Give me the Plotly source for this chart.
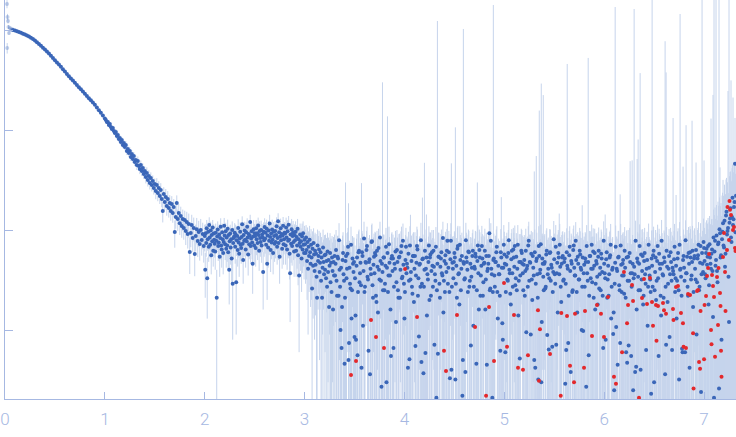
import plotly.graph_objects as go

# ---------------- data (s in nm^-1, intensity in arbitrary units) ----------------
q_low = [0.020, 0.022, 0.025, 0.030, 0.035, 0.040, 0.050, 0.060, 0.070]
i_low = [1820, 661, 1349, 1230, 1072, 933, 1047, 1000, 1023]
err_low = [170, 80, 100, 70, 50, 40, 25, 20, 15]

q_guinier = [0.08, 0.10, 0.12, 0.14, 0.16, 0.18, 0.20, 0.22, 0.24, 0.26,
             0.28, 0.30, 0.32, 0.34, 0.36, 0.38, 0.40, 0.42, 0.44, 0.46,
             0.48, 0.50, 0.52, 0.54, 0.56, 0.58, 0.60, 0.62, 0.64, 0.66,
             0.68, 0.70, 0.72, 0.74, 0.76, 0.78, 0.80, 0.82, 0.84, 0.86,
             0.88, 0.90, 0.92, 0.94, 0.96, 0.98, 1.00]
i_guinier = [1000, 986, 971, 955, 938, 918, 899, 879, 859, 836,
             813, 785, 755, 724, 695, 665, 637, 608, 581, 552,
             525, 499, 474, 451, 428, 406, 385, 364, 345, 328,
             312, 296, 282, 268, 255, 242, 230, 219, 208, 198,
             188, 179, 168, 158, 149, 140, 130]
err_guinier = [6, 6, 6, 5, 5, 5, 5, 5, 5, 4,
               4, 4, 4, 4, 4, 3.5, 3.5, 3.5, 3.2, 3.2,
               3.0, 3.0, 2.8, 2.8, 2.6, 2.6, 2.4, 2.4, 2.3, 2.2,
               2.1, 2.0, 2.0, 1.9, 1.9, 1.8, 1.8, 1.7, 1.7, 1.6,
               1.6, 1.6, 1.5, 1.5, 1.5, 1.5, 1.5]

q_knee = [1.01, 1.02, 1.03, 1.04, 1.05, 1.06, 1.07, 1.08, 1.09, 1.10,
          1.11, 1.12, 1.13, 1.14, 1.15, 1.16, 1.17, 1.18, 1.19, 1.20,
          1.21, 1.22, 1.23, 1.24, 1.25, 1.26, 1.27, 1.28, 1.29, 1.30,
          1.31, 1.32, 1.33, 1.34, 1.35, 1.36, 1.37, 1.38, 1.39, 1.40,
          1.41, 1.42, 1.43, 1.44, 1.45, 1.46, 1.47, 1.48, 1.49, 1.50,
          1.51, 1.52, 1.53, 1.54, 1.55, 1.56, 1.57, 1.58, 1.59, 1.60,
          1.61, 1.62, 1.63, 1.64, 1.65, 1.66, 1.67, 1.68, 1.69, 1.70,
          1.71, 1.72, 1.73, 1.74, 1.75, 1.76, 1.77, 1.78, 1.79, 1.80,
          1.81, 1.82, 1.83, 1.84, 1.85, 1.86, 1.87, 1.88, 1.89, 1.90,
          1.91, 1.92, 1.93, 1.94, 1.95, 1.96, 1.97, 1.98, 1.99, 2.00]
i_knee = [125.9, 120.2, 120.2, 112.2, 114.8, 107.2, 102.3, 104.7, 97.7, 93.3,
          95.5, 87.1, 89.1, 81.3, 83.2, 75.9, 79.4, 70.8, 74.1, 67.6,
          70.8, 61.7, 64.6, 58.9, 61.7, 53.7, 57.5, 51.3, 55.0, 47.9,
          50.1, 44.7, 49.0, 43.7, 40.7, 44.7, 38.9, 41.7, 36.3, 38.9,
          33.9, 37.2, 31.6, 34.7, 29.5, 33.1, 28.2, 30.9, 26.3, 28.8,
          24.5, 28.2, 23.4, 26.3, 21.9, 25.1, 20.4, 15.5, 22.9, 19.05,
          21.4, 17.4, 20.4, 16.6, 18.6, 15.5, 18.2, 14.8, 17.0, 9.55,
          13.5, 18.6, 12.9, 14.8, 11.7, 13.8, 10.96, 12.9, 10.5, 12.6,
          9.77, 12.0, 9.12, 11.5, 6.03, 9.33, 11.2, 8.32, 10.5, 5.75,
          8.71, 10.2, 7.76, 9.55, 7.24, 10.0, 7.94, 9.12, 6.92, 8.71]
err_knee = [6.3, 6.0, 6.0, 5.6, 5.7, 5.4, 5.1, 5.2, 4.9, 4.7,
            6.7, 6.1, 6.2, 5.7, 5.8, 5.3, 5.6, 5.0, 5.2, 4.7,
            6.4, 5.6, 5.8, 5.3, 5.6, 4.8, 5.2, 4.6, 5.0, 4.3,
            5.5, 4.9, 5.4, 4.8, 4.5, 4.9, 4.3, 4.6, 4.0, 4.3,
            4.7, 5.2, 4.4, 4.9, 4.1, 4.6, 3.9, 4.3, 3.7, 4.0,
            4.2, 4.8, 4.0, 4.5, 3.7, 4.3, 3.5, 3.6, 3.9, 3.2,
            4.3, 3.5, 4.1, 3.3, 3.7, 3.1, 3.6, 3.0, 3.4, 2.9,
            3.2, 3.6, 3.1, 3.4, 2.8, 3.3, 2.6, 3.1, 2.5, 3.0,
            2.7, 3.2, 2.6, 3.1, 2.4, 2.6, 3.0, 2.3, 2.8, 2.3,
            2.6, 3.0, 2.4, 2.8, 2.3, 2.9, 2.4, 2.7, 2.2, 2.6]

q_plateau = [2.005, 2.010, 2.015, 2.020, 2.025, 2.030, 2.035, 2.040, 2.045, 2.050, 2.055, 2.060, 2.065, 2.070, 2.075, 2.080, 2.085, 2.090, 2.095, 2.100,
             2.105, 2.110, 2.115, 2.120, 2.125, 2.130, 2.135, 2.140, 2.145, 2.150, 2.155, 2.160, 2.165, 2.170, 2.175, 2.180, 2.185, 2.190, 2.195, 2.200,
             2.205, 2.210, 2.215, 2.220, 2.225, 2.230, 2.235, 2.240, 2.245, 2.250, 2.255, 2.260, 2.265, 2.270, 2.275, 2.280, 2.285, 2.290, 2.295, 2.300,
             2.305, 2.310, 2.315, 2.320, 2.325, 2.330, 2.335, 2.340, 2.345, 2.350, 2.355, 2.360, 2.365, 2.370, 2.375, 2.380, 2.385, 2.390, 2.395, 2.400,
             2.405, 2.410, 2.415, 2.420, 2.425, 2.430, 2.435, 2.440, 2.445, 2.450, 2.455, 2.460, 2.465, 2.470, 2.475, 2.480, 2.485, 2.490, 2.495, 2.500,
             2.505, 2.510, 2.515, 2.520, 2.525, 2.530, 2.535, 2.540, 2.545, 2.550, 2.555, 2.560, 2.565, 2.570, 2.575, 2.580, 2.585, 2.590, 2.595, 2.600,
             2.605, 2.610, 2.615, 2.620, 2.625, 2.630, 2.635, 2.640, 2.645, 2.650, 2.655, 2.660, 2.665, 2.670, 2.675, 2.680, 2.685, 2.690, 2.695, 2.700,
             2.705, 2.710, 2.715, 2.720, 2.725, 2.730, 2.735, 2.740, 2.745, 2.750, 2.755, 2.760, 2.765, 2.770, 2.775, 2.780, 2.785, 2.790, 2.795, 2.800,
             2.805, 2.810, 2.815, 2.820, 2.825, 2.830, 2.835, 2.840, 2.845, 2.850, 2.855, 2.860, 2.865, 2.870, 2.875, 2.880, 2.885, 2.890, 2.895, 2.900,
             2.905, 2.910, 2.915, 2.920, 2.925, 2.930, 2.935, 2.940, 2.945, 2.950, 2.955, 2.960, 2.965, 2.970, 2.975, 2.980, 2.985, 2.990, 2.995, 3.000,
             3.005, 3.010, 3.015, 3.020, 3.025, 3.030, 3.035, 3.040, 3.045, 3.050, 3.055, 3.060, 3.065, 3.070, 3.075, 3.080, 3.085, 3.090, 3.095, 3.100,
             3.105, 3.110, 3.115, 3.120, 3.125, 3.130, 3.135, 3.140, 3.145, 3.150, 3.155, 3.160, 3.165, 3.170, 3.175, 3.180, 3.185, 3.190, 3.195, 3.200,
             3.205, 3.210, 3.215, 3.220, 3.225, 3.230, 3.235, 3.240, 3.245, 3.250, 3.255, 3.260, 3.265, 3.270, 3.275, 3.280, 3.285, 3.290, 3.295, 3.300]
i_plateau = [4.0, 9.3, 7.4, 10.4, 3.3, 8.1, 9.6, 6.8, 11.2, 8.4, 7.1, 9.9, 5.6, 8.9, 7.7, 10.6, 6.2, 9.2, 8.0, 7.3,
             6.1, 9.4, 7.8, 2.1, 8.6, 10.1, 6.9, 7.5, 9.0, 5.4, 8.3, 10.8, 7.0, 6.4, 9.5, 8.1, 5.9, 7.6, 11.0, 8.8,
             7.2, 9.7, 6.5, 8.4, 7.0, 10.3, 6.0, 8.9, 4.0, 7.7, 9.2, 6.7, 8.1, 5.2, 10.0, 2.9, 7.4, 8.3, 8.6, 9.4,
             6.8, 9.0, 3.0, 7.9, 8.7, 6.3, 10.5, 7.5, 5.8, 8.2, 9.6, 7.1, 6.6, 8.5, 11.4, 7.3, 5.0, 8.9, 7.8, 9.9,
             8.0, 6.4, 9.5, 7.7, 10.8, 8.4, 5.7, 9.1, 7.2, 8.8, 12.0, 6.9, 8.2, 9.7, 7.5, 4.6, 8.6, 10.2, 7.0, 9.3,
             8.7, 6.6, 10.4, 8.1, 9.3, 7.4, 11.1, 8.9, 6.2, 9.8, 8.3, 7.6, 10.0, 7.0, 9.0, 8.4, 3.8, 9.6, 7.9, 10.7,
             8.2, 9.4, 7.1, 10.3, 4.6, 8.8, 6.7, 9.9, 7.8, 11.6, 8.5, 6.3, 9.2, 7.5, 10.1, 8.0, 5.9, 9.6, 8.7, 7.3,
             9.8, 7.6, 8.9, 10.9, 6.8, 8.3, 12.2, 7.4, 9.5, 5.4, 8.6, 10.4, 7.9, 9.1, 6.5, 8.8, 11.0, 7.2, 8.1, 9.4,
             9.2, 7.0, 10.6, 8.4, 6.4, 9.7, 7.8, 11.3, 8.0, 5.8, 3.7, 9.0, 7.3, 10.2, 6.9, 8.7, 9.5, 7.6, 6.1, 8.9,
             7.9, 9.6, 6.2, 8.5, 7.0, 10.3, 5.6, 8.1, 3.5, 7.4, 9.0, 6.8, 7.7, 5.2, 8.6, 6.4, 9.3, 7.1, 5.9, 8.0,
             7.2, 5.9, 8.4, 6.3, 4.9, 7.6, 4.1, 6.8, 5.5, 8.0, 6.0, 4.6, 7.1, 5.3, 2.6, 6.5, 4.4, 7.4, 5.7, 3.9,
             6.2, 4.5, 5.8, 3.4, 2.1, 7.0, 4.9, 5.5, 6.4, 3.8, 4.7, 6.0, 3.1, 5.3, 2.1, 4.2, 6.7, 4.8, 3.6, 5.6,
             4.0, 5.7, 3.3, 4.9, 2.7, 6.1, 3.8, 5.0, 1.7, 4.4, 5.9, 3.0, 4.7, 2.4, 5.3, 3.9, 1.6, 4.8, 3.5, 5.5]
err_plateau = [1.9, 2.1, 2.0, 2.2, 2.0, 1.9, 2.3, 2.0, 2.2, 2.1, 1.9, 2.2, 2.0, 2.1, 2.3, 2.0, 1.9, 2.2, 2.1, 2.0,
               2.1, 2.2, 2.0, 1.9, 2.3, 2.1, 2.0, 2.2, 2.4, 2.0, 2.1, 2.3, 2.0, 2.2, 2.1, 1.9, 2.3, 2.1, 2.2, 2.0,
               2.2, 2.1, 2.3, 2.0, 2.2, 2.4, 2.1, 2.0, 2.2, 2.3, 2.1, 2.2, 2.0, 2.4, 2.2, 2.1, 2.3, 2.2, 2.0, 2.3,
               2.2, 2.3, 2.1, 2.4, 2.2, 2.0, 2.3, 2.2, 2.4, 2.1, 2.3, 2.2, 2.0, 2.4, 2.3, 2.2, 2.1, 2.3, 2.4, 2.2,
               2.3, 2.2, 2.4, 2.1, 2.3, 2.5, 2.2, 2.3, 2.1, 2.4, 2.2, 2.3, 2.5, 2.2, 2.4, 2.3, 2.1, 2.4, 2.3, 2.2,
               2.4, 2.3, 2.2, 2.5, 2.3, 2.4, 2.2, 2.6, 2.3, 2.4, 2.5, 2.2, 2.4, 2.3, 2.5, 2.4, 2.2, 2.3, 2.5, 2.4,
               2.4, 2.5, 2.3, 2.4, 2.6, 2.3, 2.5, 2.4, 2.2, 2.6, 2.4, 2.5, 2.3, 2.4, 2.6, 2.5, 2.3, 2.4, 2.6, 2.5,
               2.5, 2.4, 2.6, 2.5, 2.3, 2.7, 2.5, 2.4, 2.6, 2.5, 2.4, 2.6, 2.7, 2.5, 2.4, 2.6, 2.5, 2.7, 2.4, 2.6,
               2.6, 2.5, 2.7, 2.6, 2.4, 2.8, 2.6, 2.5, 2.7, 2.6, 2.5, 2.8, 2.6, 2.7, 2.5, 2.6, 2.8, 2.6, 2.7, 2.5,
               2.7, 2.6, 2.8, 2.7, 2.9, 2.6, 2.8, 2.7, 2.9, 2.8, 2.6, 2.9, 2.7, 2.8, 3.0, 2.7, 2.9, 2.8, 2.7, 3.0,
               2.9, 3.0, 2.8, 3.1, 2.9, 3.0, 3.2, 2.9, 3.1, 3.0, 3.2, 2.9, 3.1, 3.3, 3.0, 3.2, 3.1, 3.0, 3.3, 3.1,
               3.2, 3.1, 3.3, 3.2, 3.4, 3.1, 3.3, 3.2, 3.4, 3.3, 3.1, 3.4, 3.3, 3.2, 3.5, 3.3, 3.4, 3.2, 3.5, 3.3,
               3.4, 3.3, 3.5, 3.4, 3.6, 3.3, 3.5, 3.4, 3.6, 3.5, 3.4, 3.6, 3.5, 3.7, 3.4, 3.6, 3.5, 3.7, 3.6, 3.5]

q_noisy = [3.31, 3.32, 3.33, 3.34, 3.35, 3.36, 3.37, 3.38, 3.39, 3.40,
           3.41, 3.42, 3.43, 3.44, 3.45, 3.46, 3.47, 3.48, 3.49, 3.50,
           3.51, 3.52, 3.53, 3.54, 3.55, 3.56, 3.57, 3.58, 3.59, 3.60,
           3.61, 3.62, 3.63, 3.64, 3.65, 3.66, 3.67, 3.68, 3.69, 3.70,
           3.71, 3.72, 3.73, 3.74, 3.75, 3.76, 3.77, 3.78, 3.79, 3.80,
           3.81, 3.82, 3.83, 3.84, 3.85, 3.86, 3.87, 3.88, 3.89, 3.90,
           3.91, 3.92, 3.93, 3.94, 3.95, 3.96, 3.97, 3.98, 3.99, 4.00,
           4.01, 4.02, 4.03, 4.04, 4.05, 4.06, 4.07, 4.08, 4.09, 4.10,
           4.11, 4.12, 4.13, 4.14, 4.15, 4.16, 4.17, 4.18, 4.19, 4.20,
           4.21, 4.22, 4.23, 4.24, 4.25, 4.26, 4.27, 4.28, 4.29, 4.30,
           4.31, 4.32, 4.33, 4.34, 4.35, 4.36, 4.37, 4.38, 4.39, 4.40,
           4.41, 4.42, 4.43, 4.44, 4.45, 4.46, 4.47, 4.48, 4.49, 4.50,
           4.51, 4.52, 4.53, 4.54, 4.55, 4.56, 4.57, 4.58, 4.59, 4.60,
           4.61, 4.62, 4.63, 4.64, 4.65, 4.66, 4.67, 4.68, 4.69, 4.70,
           4.71, 4.72, 4.73, 4.74, 4.75, 4.76, 4.77, 4.78, 4.79, 4.80,
           4.81, 4.82, 4.83, 4.84, 4.85, 4.86, 4.87, 4.88, 4.89, 4.90,
           4.91, 4.92, 4.93, 4.94, 4.95, 4.96, 4.97, 4.98, 4.99, 5.00,
           5.01, 5.02, 5.03, 5.04, 5.05, 5.06, 5.07, 5.08, 5.09, 5.10,
           5.11, 5.12, 5.13, 5.14, 5.15, 5.16, 5.17, 5.18, 5.19, 5.20,
           5.21, 5.22, 5.23, 5.24, 5.25, 5.26, 5.27, 5.28, 5.29, 5.30,
           5.31, 5.32, 5.33, 5.34, 5.35, 5.36, 5.37, 5.38, 5.39, 5.40,
           5.41, 5.42, 5.43, 5.44, 5.45, 5.46, 5.47, 5.48, 5.49, 5.50,
           5.51, 5.52, 5.53, 5.54, 5.55, 5.56, 5.57, 5.58, 5.59, 5.60,
           5.61, 5.62, 5.63, 5.64, 5.65, 5.66, 5.67, 5.68, 5.69, 5.70,
           5.71, 5.72, 5.73, 5.74, 5.75, 5.76, 5.77, 5.78, 5.79, 5.80,
           5.81, 5.82, 5.83, 5.84, 5.85, 5.86, 5.87, 5.88, 5.89, 5.90,
           5.91, 5.92, 5.93, 5.94, 5.95, 5.96, 5.97, 5.98, 5.99, 6.00,
           6.01, 6.02, 6.03, 6.04, 6.05, 6.06, 6.07, 6.08, 6.09, 6.10,
           6.11, 6.12, 6.13, 6.14, 6.15, 6.16, 6.17, 6.18, 6.19, 6.20,
           6.21, 6.22, 6.23, 6.24, 6.25, 6.26, 6.27, 6.28, 6.29, 6.30,
           6.31, 6.32, 6.33, 6.34, 6.35, 6.36, 6.37, 6.38, 6.39, 6.40,
           6.41, 6.42, 6.43, 6.44, 6.45, 6.46, 6.47, 6.48, 6.49, 6.50,
           6.51, 6.52, 6.53, 6.54, 6.55, 6.56, 6.57, 6.58, 6.59, 6.60,
           6.61, 6.62, 6.63, 6.64, 6.65, 6.66, 6.67, 6.68, 6.69, 6.70,
           6.71, 6.72, 6.73, 6.74, 6.75, 6.76, 6.77, 6.78, 6.79, 6.80,
           6.81, 6.82, 6.83, 6.84, 6.85, 6.86, 6.87, 6.88, 6.89, 6.90,
           6.91, 6.92, 6.93, 6.94, 6.95, 6.96, 6.97, 6.98, 6.99, 7.00,
           7.01, 7.02, 7.03, 7.04, 7.05, 7.06, 7.07, 7.08, 7.09, 7.10,
           7.11, 7.12, 7.13, 7.14, 7.15, 7.16, 7.17, 7.18, 7.19, 7.20,
           7.21, 7.22, 7.23, 7.24, 7.25, 7.26, 7.27, 7.28, 7.29, 7.30,
           7.31, 7.32]
i_noisy = [4.6, 3.1, 5.4, 2.2, 4.0, 1.0, 0.66, 5.0, 3.6, 0.46,
           4.9, 3.3, 5.8, 0.5, 4.2, 2.6, 1.3, 5.2, 3.8, 0.85,
           1.4, 4.4, 0.56, 6.0, 3.0, 4.7, 0.42, 5.5, 3.9, 2.4,
           4.8, 6.3, 3.4, 0.62, 5.1, 4.1, 7.6, 2.8, 4.5, 3.7,
           5.6, 1.9, 4.3, 6.6, 3.2, 4.9, 0.27, 3.8, 5.3, 2.5,
           4.4, 0.30, 5.9, 3.5, 4.7, 1.6, 5.2, 3.9, 0.66, 4.6,
           6.1, 3.0, 4.8, 2.1, 5.4, 4.0, 6.9, 3.4, 4.5, 1.3,
           5.0, 3.7, 4.2, 5.8, 0.51, 3.2, 4.9, 2.3, 5.5, 4.1,
           0.69, 4.7, 6.4, 3.3, 4.5, 2.7, 0.48, 5.1, 0.37, 4.0,
           0.59, 5.3, 3.6, 4.8, 2.0, 5.7, 3.9, 4.4, 6.2, 0.71,
           3.1, 0.21, 4.6, 5.4, 2.9, 4.3, 6.0, 3.5, 1.5, 4.9,
           5.6, 3.8, 7.8, 4.2, 2.4, 5.1, 0.40, 4.7, 3.3, 5.9,
           0.32, 4.4, 6.5, 3.6, 1.8, 5.0, 4.1, 0.22, 4.8, 3.2,
           0.38, 5.3, 4.0, 6.1, 2.7, 4.6, 3.4, 5.5, 1.1, 4.3,
           5.8, 0.46, 4.9, 3.7, 6.3, 2.2, 4.4, 5.2, 3.0, 4.7,
           1.6, 5.5, 3.9, 4.6, 9.3, 2.6, 4.1, 0.21, 5.0, 3.5,
           4.8, 6.0, 2.4, 4.4, 3.6, 0.62, 5.3, 1.17, 4.2, 5.7,
           0.60, 4.5, 3.2, 5.9, 4.0, 2.3, 5.1, 3.7, 6.4, 4.3,
           2.8, 5.4, 4.1, 1.4, 4.8, 3.5, 6.2, 4.6, 2.5, 5.0,
           3.9, 0.95, 4.4, 7.0, 3.1, 4.7, 5.8, 2.0, 4.2, 0.50,
           0.42, 4.9, 3.6, 0.32, 5.5, 4.0, 0.30, 5.2, 3.4, 4.6,
           2.6, 5.7, 0.89, 4.1, 3.3, 6.0, 4.5, 0.68, 3.8, 5.1,
           2.9, 0.71, 4.7, 5.9, 3.6, 4.3, 1.9, 5.3, 3.1, 4.8,
           0.29, 0.63, 4.4, 0.74, 5.6, 3.9, 4.9, 2.4, 6.3, 4.2,
           3.5, 5.0, 1.5, 4.6, 3.2, 5.7, 4.0, 2.7, 0.98, 4.5,
           5.2, 0.27, 3.7, 4.8, 2.2, 5.5, 4.1, 3.0, 6.1, 4.4,
           1.6, 4.9, 3.4, 5.4, 2.6, 4.2, 5.8, 3.8, 0.66, 4.6,
           3.3, 5.1, 2.1, 4.4, 3.6, 5.6, 1.3, 4.0, 0.91, 0.25,
           4.7, 1.07, 3.9, 5.3, 2.8, 0.74, 4.5, 3.5, 5.0, 2.3,
           4.2, 0.60, 0.47, 5.4, 3.1, 4.8, 0.55, 3.7, 0.25, 4.3,
           0.38, 0.43, 5.2, 3.4, 4.6, 2.5, 5.7, 3.9, 1.8, 4.9,
           3.6, 0.63, 5.0, 2.7, 4.2, 3.2, 0.23, 4.4, 5.6, 0.30,
           3.8, 2.0, 4.9, 3.3, 5.8, 4.1, 1.4, 4.6, 3.5, 5.3,
           0.36, 0.71, 4.3, 2.9, 5.5, 3.6, 4.8, 0.63, 3.9, 5.1,
           2.4, 4.4, 3.1, 5.9, 0.32, 4.0, 3.4, 0.65, 5.0, 4.2,
           0.60, 3.7, 5.4, 2.2, 4.6, 6.0, 3.2, 4.8, 1.7, 5.2,
           4.1, 6.3, 3.0, 5.6, 2.5, 4.7, 0.24, 5.9, 3.8, 6.6,
           3.6, 5.9, 4.5, 6.9, 2.8, 5.3, 4.1, 6.4, 1.35, 0.21,
           7.8, 5.0, 3.9, 7.2, 0.26, 9.3, 5.6, 8.1, 11.7, 6.7,
           4.3, 14.0, 9.0, 10.5, 1.2, 13.0, 8.4, 13.5, 11.2, 17.0,
           46, 22]
err_noisy = [3.4, 3.6, 3.3, 3.7, 3.5, 3.6, 3.4, 3.8, 3.5, 3.6,
             25, 3.5, 3.7, 18, 3.6, 3.4, 3.8, 3.5, 3.7, 3.6,
             3.6, 3.8, 3.5, 3.7, 3.9, 3.6, 29, 3.7, 3.5, 3.8,
             3.7, 3.5, 3.9, 3.6, 3.8, 4.0, 3.6, 3.7, 3.9, 3.5,
             3.8, 3.6, 3.9, 3.7, 4.0, 3.6, 3.8, 296, 3.7, 3.9,
             3.6, 3.9, 131, 3.7, 3.8, 3.6, 4.0, 3.7, 3.9, 3.8,
             3.7, 3.9, 3.6, 4.0, 3.8, 3.7, 3.9, 4.1, 3.6, 3.8,
             3.9, 3.7, 4.0, 3.8, 3.6, 11, 3.9, 3.7, 4.0, 3.8,
             3.8, 4.0, 3.7, 3.9, 4.1, 3.8, 3.7, 16, 3.9, 43,
             3.7, 9.0, 3.9, 3.8, 4.0, 3.7, 4.1, 3.9, 3.8, 4.0,
             3.9, 3.8, 1226, 4.0, 3.7, 3.9, 4.1, 3.8, 4.0, 3.7,
             4.0, 3.8, 3.9, 4.1, 3.7, 4.0, 46, 3.9, 4.1, 3.8,
             106, 3.9, 4.1, 3.8, 4.0, 3.9, 4.2, 3.8, 1019, 4.0,
             3.9, 4.1, 3.8, 4.0, 4.2, 3.9, 4.0, 3.8, 4.1, 3.9,
             4.0, 3.9, 25, 4.1, 3.8, 4.0, 4.2, 3.9, 4.1, 3.8,
             4.1, 3.9, 4.0, 4.2, 3.8, 4.1, 3.9, 4.0, 1774, 4.2,
             3.9, 4.1, 4.0, 3.8, 4.2, 3.9, 16, 4.1, 4.0, 3.9,
             4.0, 4.2, 3.9, 4.1, 3.8, 4.0, 4.2, 3.9, 4.1, 4.0,
             4.2, 3.9, 4.1, 4.0, 4.3, 3.9, 4.1, 4.2, 4.0, 3.9,
             4.1, 4.0, 4.2, 3.9, 4.1, 4.3, 4.0, 4.2, 3.9, 38,
             4.1, 50, 4.0, 4.2, 151, 4.1, 291, 4.0, 220, 4.2,
             4.0, 4.2, 4.1, 4.3, 3.9, 4.1, 4.2, 4.0, 4.3, 4.1,
             4.2, 4.0, 4.3, 4.1, 11, 4.2, 4.0, 4.3, 4.1, 4.2,
             4.1, 4.3, 453, 4.0, 4.2, 4.1, 4.3, 4.2, 4.0, 4.4,
             4.2, 4.1, 4.3, 4.2, 4.4, 4.0, 4.3, 15, 4.2, 4.1,
             4.3, 4.2, 4.1, 521, 4.3, 4.2, 4.4, 4.1, 4.3, 4.2,
             4.2, 4.4, 4.3, 4.1, 4.5, 4.2, 4.3, 4.4, 4.2, 4.3,
             11, 4.3, 4.5, 4.2, 4.4, 4.3, 4.5, 4.2, 4.4, 4.3,
             1694, 4.4, 4.3, 4.5, 4.2, 22, 4.4, 4.3, 4.5, 4.4,
             4.5, 4.3, 4.4, 4.6, 4.3, 44, 4.5, 46, 4.4, 1618,
             4.4, 4.5, 46, 77, 4.6, 368, 4.4, 4.5, 4.3, 4.6,
             4.5, 4.4, 4.6, 4.5, 4.3, 4.6, 4.5, 3000, 4.4, 4.6,
             4.6, 4.4, 4.5, 4.7, 4.5, 4.6, 4.4, 4.7, 4.5, 4.6,
             772, 376, 4.6, 4.5, 4.7, 4.6, 4.8, 4.5, 128, 4.7,
             4.6, 18, 4.7, 4.5, 4.8, 1441, 4.6, 4.7, 38, 4.8,
             4.7, 108, 4.6, 4.8, 4.7, 4.9, 4.6, 119, 4.8, 4.7,
             4.8, 41, 4.7, 4.9, 4.8, 4.6, 5.0, 3000, 4.8, 43,
             5.5, 6.0, 5.8, 6.3, 5.6, 6.1, 126, 6.5, 223, 3000,
             9.0, 3000, 10, 12, 3000, 33, 13, 14, 20, 15,
             14, 18, 20, 235, 3000, 25, 305, 28, 200, 30,
             86, 25]

q_noisy_b = [3.305, 3.315, 3.325, 3.335, 3.345, 3.355, 3.365, 3.375, 3.385, 3.395,
             3.405, 3.415, 3.425, 3.435, 3.445, 3.455, 3.465, 3.475, 3.485, 3.495,
             3.505, 3.515, 3.525, 3.535, 3.545, 3.555, 3.565, 3.575, 3.585, 3.595,
             3.605, 3.615, 3.625, 3.635, 3.645, 3.655, 3.665, 3.675, 3.685, 3.695,
             3.705, 3.715, 3.725, 3.735, 3.745, 3.755, 3.765, 3.775, 3.785, 3.795,
             3.805, 3.815, 3.825, 3.835, 3.845, 3.855, 3.865, 3.875, 3.885, 3.895,
             3.905, 3.915, 3.925, 3.935, 3.945, 3.955, 3.965, 3.975, 3.985, 3.995,
             4.005, 4.015, 4.025, 4.035, 4.045, 4.055, 4.065, 4.075, 4.085, 4.095,
             4.105, 4.115, 4.125, 4.135, 4.145, 4.155, 4.165, 4.175, 4.185, 4.195,
             4.205, 4.215, 4.225, 4.235, 4.245, 4.255, 4.265, 4.275, 4.285, 4.295,
             4.305, 4.315, 4.325, 4.335, 4.345, 4.355, 4.365, 4.375, 4.385, 4.395,
             4.405, 4.415, 4.425, 4.435, 4.445, 4.455, 4.465, 4.475, 4.485, 4.495,
             4.505, 4.515, 4.525, 4.535, 4.545, 4.555, 4.565, 4.575, 4.585, 4.595,
             4.605, 4.615, 4.625, 4.635, 4.645, 4.655, 4.665, 4.675, 4.685, 4.695,
             4.705, 4.715, 4.725, 4.735, 4.745, 4.755, 4.765, 4.775, 4.785, 4.795,
             4.805, 4.815, 4.825, 4.835, 4.845, 4.855, 4.865, 4.875, 4.885, 4.895,
             4.905, 4.915, 4.925, 4.935, 4.945, 4.955, 4.965, 4.975, 4.985, 4.995,
             5.005, 5.015, 5.025, 5.035, 5.045, 5.055, 5.065, 5.075, 5.085, 5.095,
             5.105, 5.115, 5.125, 5.135, 5.145, 5.155, 5.165, 5.175, 5.185, 5.195,
             5.205, 5.215, 5.225, 5.235, 5.245, 5.255, 5.265, 5.275, 5.285, 5.295,
             5.305, 5.315, 5.325, 5.335, 5.345, 5.355, 5.365, 5.375, 5.385, 5.395,
             5.405, 5.415, 5.425, 5.435, 5.445, 5.455, 5.465, 5.475, 5.485, 5.495,
             5.505, 5.515, 5.525, 5.535, 5.545, 5.555, 5.565, 5.575, 5.585, 5.595,
             5.605, 5.615, 5.625, 5.635, 5.645, 5.655, 5.665, 5.675, 5.685, 5.695,
             5.705, 5.715, 5.725, 5.735, 5.745, 5.755, 5.765, 5.775, 5.785, 5.795,
             5.805, 5.815, 5.825, 5.835, 5.845, 5.855, 5.865, 5.875, 5.885, 5.895,
             5.905, 5.915, 5.925, 5.935, 5.945, 5.955, 5.965, 5.975, 5.985, 5.995,
             6.005, 6.015, 6.025, 6.035, 6.045, 6.055, 6.065, 6.075, 6.085, 6.095,
             6.105, 6.115, 6.125, 6.135, 6.145, 6.155, 6.165, 6.175, 6.185, 6.195,
             6.205, 6.215, 6.225, 6.235, 6.245, 6.255, 6.265, 6.275, 6.285, 6.295,
             6.305, 6.315, 6.325, 6.335, 6.345, 6.355, 6.365, 6.375, 6.385, 6.395,
             6.405, 6.415, 6.425, 6.435, 6.445, 6.455, 6.465, 6.475, 6.485, 6.495,
             6.505, 6.515, 6.525, 6.535, 6.545, 6.555, 6.565, 6.575, 6.585, 6.595,
             6.605, 6.615, 6.625, 6.635, 6.645, 6.655, 6.665, 6.675, 6.685, 6.695,
             6.705, 6.715, 6.725, 6.735, 6.745, 6.755, 6.765, 6.775, 6.785, 6.795,
             6.805, 6.815, 6.825, 6.835, 6.845, 6.855, 6.865, 6.875, 6.885, 6.895,
             6.905, 6.915, 6.925, 6.935, 6.945, 6.955, 6.965, 6.975, 6.985, 6.995,
             7.005, 7.015, 7.025, 7.035, 7.045, 7.055, 7.065, 7.075, 7.085, 7.095,
             7.105, 7.115, 7.125, 7.135, 7.145, 7.155, 7.165, 7.175, 7.185, 7.195,
             7.205, 7.215, 7.225, 7.235, 7.245, 7.255, 7.265, 7.275, 7.285, 7.295,
             7.305, 7.315]
i_noisy_b = [3.5, 6.3, 2.2, 5.2, 7.9, 2.7, 4.2, 1.7, 5.9, 3.1,
             2.1, 5.5, 4.1, 6.8, 0.74, 2.9, 7.1, 2.5, 4.6, 4.8,
             3.3, 0.8, 5.3, 2.4, 6.2, 3.7, 2.8, 6.0, 1.1, 8.2,
             2.7, 4.7, 6.9, 3.2, 4.8, 0.36, 3.6, 7.7, 2.1, 5.4,
             5.9, 2.2, 6.2, 1.5, 4.0, 8.4, 3.1, 4.6, 2.5, 5.3,
             2.9, 6.8, 4.2, 2.4, 7.2, 3.5, 0.55, 5.5, 5.2, 2.7,
             4.1, 1.2, 6.3, 2.5, 5.3, 2.1, 6.0, 3.3, 7.8, 2.9,
             2.4, 6.8, 4.6, 0.42, 3.1, 7.0, 3.8, 2.7, 5.5, 1.9,
             5.5, 3.5, 6.9, 2.2, 0.86, 4.6, 7.9, 2.9, 5.2, 2.7,
             6.2, 4.1, 1.4, 3.2, 7.0, 5.3, 2.2, 6.0, 2.7, 4.3,
             3.6, 6.8, 2.5, 0.58, 5.4, 2.1, 5.2, 3.7, 8.3, 3.1,
             2.4, 4.6, 6.2, 2.9, 6.0, 0.33, 7.8, 2.7, 4.1, 4.8,
             5.3, 2.9, 2.1, 6.9, 3.7, 7.1, 2.5, 5.5, 0.5, 4.6,
             3.3, 7.9, 4.8, 2.4, 6.0, 3.1, 0.7, 4.2, 6.2, 2.7,
             4.1, 5.4, 2.5, 7.0, 1.6, 5.3, 3.5, 6.9, 2.2, 4.6,
             6.2, 3.2, 0.45, 4.1, 5.5, 2.5, 7.8, 3.6, 2.4, 5.2,
             2.7, 4.8, 6.8, 1.3, 3.6, 2.2, 6.0, 4.2, 0.8, 7.1,
             4.6, 2.4, 5.4, 3.1, 7.9, 3.7, 1.8, 6.2, 2.7, 5.3,
             6.9, 3.3, 2.5, 7.1, 3.1, 0.52, 4.8, 5.9, 3.7, 4.5,
             2.2, 6.2, 4.1, 2.7, 7.8, 4.8, 0.9, 3.2, 5.5, 3.5,
             6.0, 2.9, 5.2, 2.1, 6.9, 3.7, 7.2, 1.2, 4.6, 2.5,
             4.8, 2.7, 6.2, 3.6, 0.64, 5.9, 3.1, 4.2, 2.4, 8.1,
             3.6, 6.8, 3.7, 1.5, 5.3, 7.1, 2.7, 4.6, 5.5, 3.2,
             5.2, 2.9, 6.0, 4.1, 2.2, 6.8, 0.38, 4.6, 2.5, 7.0,
             3.5, 7.8, 2.4, 5.4, 3.2, 6.2, 4.2, 1.0, 5.3, 3.7,
             2.7, 4.8, 6.9, 3.1, 0.56, 5.5, 3.3, 7.1, 4.1, 2.1,
             5.9, 2.9, 4.6, 1.8, 6.2, 3.6, 2.5, 5.2, 2.2, 7.8,
             3.7, 0.8, 6.0, 3.2, 2.2, 5.3, 7.1, 2.7, 4.2, 1.5,
             2.9, 6.8, 4.1, 0.45, 5.4, 2.5, 7.0, 2.4, 4.6, 3.5,
             6.2, 2.1, 5.3, 3.1, 0.7, 5.9, 3.7, 2.7, 4.6, 3.3,
             3.6, 7.8, 1.6, 4.8, 2.5, 6.9, 0.4, 3.2, 5.5, 2.2,
             5.9, 2.9, 4.1, 1.1, 7.1, 3.5, 2.4, 5.2, 2.7, 6.2,
             2.5, 5.3, 3.1, 6.9, 0.55, 4.6, 2.2, 7.8, 3.6, 2.1,
             4.8, 2.7, 6.2, 1.9, 4.1, 0.85, 6.0, 3.1, 4.2, 3.6,
             6.8, 3.3, 1.3, 5.2, 2.5, 7.1, 4.1, 2.2, 0.6, 5.5,
             3.1, 7.9, 3.7, 2.7, 5.9, 0.42, 5.3, 3.5, 6.2, 2.4,
             5.5, 3.2, 0.9, 5.2, 7.1, 2.7, 6.9, 3.6, 4.6, 7.6,
             4.9, 3.3, 6.5, 5.4, 1.8, 7.2, 4.6, 5.8, 3.9, 8.4,
             6.1, 4.4, 8.8, 3.0, 7.5, 10.2, 5.3, 0.8, 9.6, 7.0,
             12.4, 5.8, 15.2, 9.8, 3.4, 11.8, 16.5, 7.6, 21.0, 12.8,
             19.0, 9.5]
err_noisy_b = [3.5, 3.7, 3.4, 3.6, 3.8, 3.5, 3.7, 3.4, 3.6, 3.8,
               3.6, 3.8, 3.5, 3.7, 3.6, 3.9, 3.7, 3.5, 3.8, 3.6,
               3.7, 3.5, 3.8, 3.6, 3.9, 3.7, 3.5, 3.8, 3.6, 3.9,
               3.8, 3.6, 3.9, 3.7, 3.5, 3.8, 3.6, 3.9, 3.7, 3.8,
               3.7, 3.9, 3.6, 3.8, 4.0, 3.7, 3.9, 3.6, 3.8, 3.7,
               3.9, 3.7, 4.0, 3.8, 3.6, 3.9, 3.7, 4.0, 3.8, 3.9,
               3.8, 4.0, 3.7, 3.9, 3.8, 4.1, 3.7, 3.9, 3.8, 4.0,
               3.9, 3.7, 4.0, 3.8, 4.1, 3.9, 3.8, 4.0, 3.7, 3.9,
               4.0, 3.8, 3.9, 4.1, 3.8, 4.0, 3.9, 4.1, 3.8, 4.0,
               3.9, 4.1, 3.8, 4.0, 3.9, 4.2, 3.8, 4.0, 4.1, 3.9,
               4.0, 3.9, 4.1, 3.8, 4.0, 4.2, 3.9, 4.1, 3.8, 4.0,
               4.1, 3.9, 4.0, 4.2, 3.8, 4.1, 3.9, 4.0, 4.2, 3.9,
               4.0, 4.2, 3.9, 4.1, 4.0, 3.8, 4.2, 3.9, 4.1, 4.0,
               4.1, 3.9, 4.2, 4.0, 3.8, 4.1, 4.0, 4.2, 3.9, 4.1,
               4.0, 4.2, 3.9, 4.1, 4.0, 4.2, 3.9, 4.1, 4.0, 4.2,
               4.1, 3.9, 4.2, 4.0, 4.1, 4.3, 3.9, 4.1, 4.2, 4.0,
               4.2, 4.0, 4.1, 4.3, 3.9, 4.1, 4.2, 4.0, 4.3, 4.1,
               4.1, 4.3, 4.0, 4.2, 4.1, 3.9, 4.3, 4.0, 4.2, 4.1,
               4.2, 4.0, 4.3, 4.1, 4.2, 4.0, 4.3, 4.1, 4.2, 4.0,
               4.3, 4.1, 4.2, 4.0, 4.3, 4.2, 4.1, 4.3, 4.0, 4.2,
               4.1, 4.3, 4.2, 4.4, 4.0, 4.2, 4.1, 4.3, 4.2, 4.1,
               4.3, 4.1, 4.2, 4.4, 4.1, 4.3, 4.2, 4.0, 4.3, 4.2,
               4.2, 4.4, 4.1, 4.3, 4.2, 4.4, 4.1, 4.3, 4.2, 4.4,
               4.3, 4.1, 4.4, 4.2, 4.3, 4.1, 4.4, 4.2, 4.3, 4.1,
               4.4, 4.2, 4.3, 4.1, 4.4, 4.3, 4.2, 4.4, 4.1, 4.3,
               4.2, 4.4, 4.3, 4.5, 4.2, 4.3, 4.4, 4.2, 4.5, 4.3,
               4.4, 4.3, 4.5, 4.2, 4.4, 4.3, 4.5, 4.4, 4.2, 4.4,
               4.3, 4.5, 4.4, 4.2, 4.5, 4.3, 4.4, 4.6, 4.3, 4.5,
               4.4, 4.3, 4.5, 4.6, 4.4, 4.3, 4.5, 4.4, 4.6, 4.3,
               4.5, 4.4, 4.6, 4.3, 4.5, 4.6, 4.4, 4.5, 4.3, 4.6,
               4.4, 4.6, 4.5, 4.7, 4.4, 4.5, 4.6, 4.4, 4.7, 4.5,
               4.6, 4.5, 4.4, 4.7, 4.5, 4.6, 4.4, 4.7, 4.5, 4.6,
               4.5, 4.7, 4.6, 4.4, 4.7, 4.5, 4.6, 4.8, 4.5, 4.7,
               4.6, 4.8, 4.5, 4.7, 4.6, 4.8, 4.5, 4.7, 4.6, 4.8,
               4.7, 4.6, 4.8, 4.5, 4.7, 4.9, 4.6, 4.8, 4.7, 4.6,
               4.8, 4.6, 4.9, 4.7, 4.8, 4.6, 4.9, 4.7, 4.8, 5.0,
               4.9, 4.7, 5.0, 4.8, 4.9, 5.1, 4.8, 5.0, 5.2, 5.4,
               5.6, 5.8, 6.0, 6.2, 6.4, 6.6, 6.8, 7.0, 7.3, 7.6,
               8.0, 8.5, 9.0, 9.5, 10, 11, 12, 13, 14, 15,
               16, 17, 18, 19, 20, 21, 22, 23, 24, 25,
               26, 27]

q_flagged = [3.465, 3.515, 3.665, 3.715, 3.795, 4.006, 4.126, 4.396, 4.416, 4.526,
             4.707, 4.817, 4.847, 4.897, 4.997, 5.027, 5.097, 5.137, 5.187, 5.237,
             5.337, 5.347, 5.357, 5.458, 5.565, 5.571, 5.628, 5.658, 5.698, 5.708,
             5.798, 5.808, 5.878, 5.928, 5.968, 5.998, 6.038, 6.098, 6.118, 6.179,
             6.198, 6.229, 6.239, 6.279, 6.289, 6.349, 6.379, 6.399, 6.429, 6.459,
             6.479, 6.489, 6.519, 6.524, 6.539, 6.589, 6.599, 6.619, 6.689, 6.694,
             6.719, 6.739, 6.769, 6.789, 6.795, 6.819, 6.840, 6.860, 6.890, 6.895,
             6.930, 6.940, 6.950, 6.960, 6.965, 7.000, 7.005, 7.020, 7.030, 7.040,
             7.050, 7.070, 7.075, 7.080, 7.090, 7.100, 7.110, 7.130, 7.140, 7.145,
             7.160, 7.165, 7.170, 7.175, 7.190, 7.200, 7.210, 7.215, 7.230, 7.235,
             7.250, 7.255, 7.260, 7.270, 7.290, 7.300, 7.310, 7.315]
i_flagged = [0.355, 0.49, 1.26, 0.85, 0.66, 4.07, 1.35, 0.62, 0.39, 1.41,
             1.07, 0.22, 1.70, 0.49, 2.95, 0.68, 1.41, 0.42, 0.40, 0.56,
             1.58, 0.31, 1.02, 0.575, 0.22, 1.48, 1.38, 0.44, 0.30, 1.45,
             0.42, 1.55, 0.87, 1.78, 1.45, 0.85, 2.14, 0.34, 0.29, 0.60,
             3.80, 1.17, 1.78, 2.82, 1.95, 0.21, 2.09, 3.24, 1.82, 3.31,
             1.91, 1.10, 1.78, 0.78, 1.74, 1.86, 1.58, 1.45, 1.62, 1.26,
             2.69, 2.75, 1.48, 1.17, 0.68, 0.66, 2.29, 2.24, 0.93, 0.26,
             2.45, 2.51, 0.48, 0.41, 1.55, 0.51, 1.78, 2.19, 3.47, 4.17,
             5.75, 1.00, 0.72, 3.55, 2.75, 2.14, 0.54, 3.39, 1.12, 4.17,
             2.34, 1.74, 0.62, 0.34, 5.37, 9.33, 3.80, 1.55, 6.31, 17.0,
             7.94, 19.5, 15.9, 14.1, 10.0, 10.7, 6.61, 6.17]
err_flagged = [3.6, 3.7, 3.7, 3.8, 3.8, 3.9, 3.9, 4.0, 4.0, 4.0,
               4.0, 4.0, 4.1, 4.1, 4.1, 4.1, 4.1, 4.2, 4.2, 4.1,
               4.2, 4.2, 4.1, 4.2, 4.2, 4.1, 4.2, 4.3, 4.2, 4.2,
               4.2, 4.3, 4.2, 4.3, 4.3, 4.2, 4.3, 4.4, 4.3, 4.4,
               4.4, 4.3, 4.5, 4.4, 4.4, 4.5, 4.4, 4.5, 4.5, 4.6,
               4.5, 4.6, 4.6, 4.5, 4.6, 4.6, 4.7, 4.6, 4.7, 4.7,
               4.7, 4.8, 4.7, 4.8, 4.8, 4.7, 4.9, 4.8, 4.9, 4.8,
               4.9, 5.0, 4.9, 5.0, 5.0, 5.5, 5.6, 5.8, 5.9, 6.0,
               6.2, 6.4, 6.5, 6.6, 6.8, 7.0, 7.2, 7.5, 7.8, 8.0,
               8.5, 8.8, 9.0, 9.2, 9.6, 10, 11, 11, 12, 13,
               14, 15, 16, 17, 18, 19, 20, 21]

x_ticks = [0, 1, 2, 3, 4, 5, 6, 7]
y_ticks = [1, 10, 100, 1000]

# ---------------- styling ----------------
AXIS = "#a6b8e2"
ERR = "rgb(198,212,236)"
BLUE = "#3a66b8"
RED = "#e3282c"

q_main = q_guinier + q_knee + q_plateau + q_noisy + q_noisy_b
i_main = i_guinier + i_knee + i_plateau + i_noisy + i_noisy_b
e_main = err_guinier + err_knee + err_plateau + err_noisy + err_noisy_b

fig = go.Figure()

# error bars first (all points), so every marker sits on top
for qs, iv, ev in [(q_low, i_low, err_low), (q_main, i_main, e_main), (q_flagged, i_flagged, err_flagged)]:
    fig.add_trace(go.Scatter(
        x=qs, y=iv, mode="markers",
        marker=dict(size=1, color="rgba(0,0,0,0)"),
        error_y=dict(type="data", array=ev, visible=True, color=ERR, thickness=1, width=0),
        hoverinfo="skip", showlegend=False))

fig.add_trace(go.Scatter(x=q_low, y=i_low, mode="markers",
                         marker=dict(size=4, color="rgba(58,102,184,0.3)", line=dict(width=0)),
                         showlegend=False))
fig.add_trace(go.Scatter(x=q_main, y=i_main, mode="markers",
                         marker=dict(size=4, color=BLUE, line=dict(width=0)),
                         showlegend=False))
fig.add_trace(go.Scatter(x=q_flagged, y=i_flagged, mode="markers",
                         marker=dict(size=4, color=RED, line=dict(width=0)),
                         showlegend=False))

fig.update_layout(
    width=736, height=437,
    margin=dict(l=5, r=0, t=0, b=38, pad=0),
    paper_bgcolor="white", plot_bgcolor="white",
    showlegend=False,
    xaxis=dict(range=[0, 7.32], tickvals=x_ticks, ticks="inside", ticklen=7,
               tickcolor=AXIS, showline=True, linecolor=AXIS, linewidth=1,
               showgrid=False, zeroline=False, automargin=False, ticklabelstandoff=5,
               tickfont=dict(family="Roboto", size=17, color=AXIS, weight=300)),
    yaxis=dict(type="log", range=[-0.69, 3.30], tickvals=y_ticks, ticks="inside",
               ticklen=8, tickcolor=AXIS, showline=True, linecolor=AXIS, linewidth=1,
               showgrid=False, zeroline=False, showticklabels=False, automargin=False),
)

fig.write_html("out.html", config={"displayModeBar": False},
               post_script="document.body.style.margin='0px';")
